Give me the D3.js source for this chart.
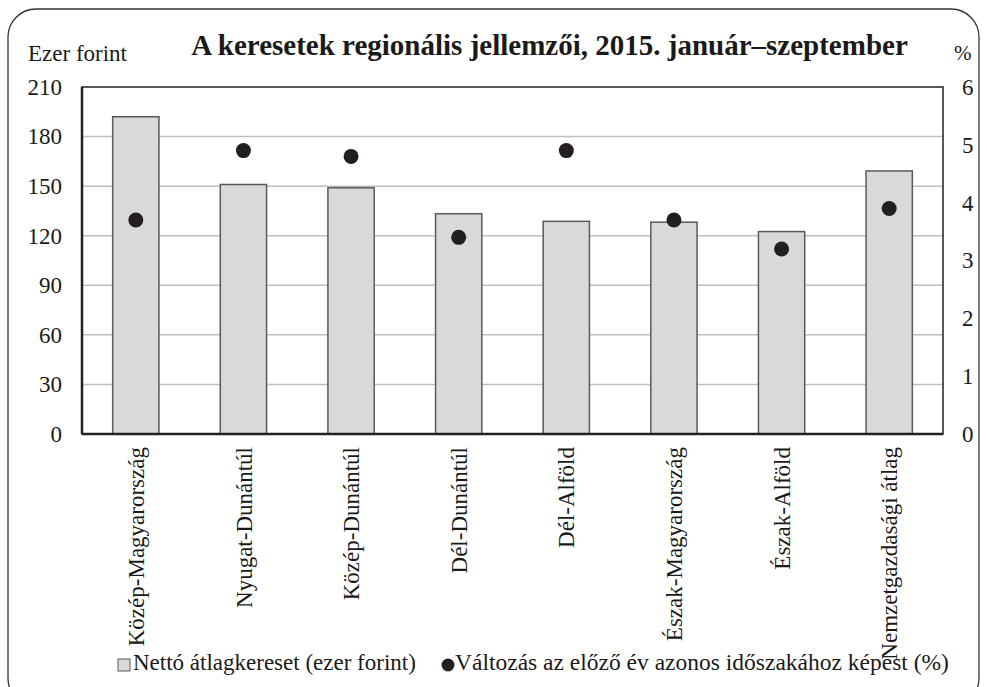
<!DOCTYPE html>
<html><head><meta charset="utf-8">
<script src="https://cdn.jsdelivr.net/npm/d3@7"></script>
<style>body{margin:0;background:#fff}svg{display:block}</style>
</head><body>
<script>
const categories = ["Közép-Magyarország","Nyugat-Dunántúl","Közép-Dunántúl","Dél-Dunántúl","Dél-Alföld","Észak-Magyarország","Észak-Alföld","Nemzetgazdasági átlag"];
const wages = [192, 151, 149, 133.3, 128.7, 128.2, 122.5, 159.2];
const changes = [3.7, 4.9, 4.8, 3.4, 4.9, 3.7, 3.2, 3.9];
const leftTicks = [0,30,60,90,120,150,180,210];
const rightTicks = [0,1,2,3,4,5,6];
const title = "A keresetek regionális jellemzői, 2015. január–szeptember";
const legendLabels = ["Nettó átlagkereset (ezer forint)","Változás az előző év azonos időszakához képest (%)"];

const FONT = "Liberation Serif, DejaVu Serif, serif";
const FS = 23;
const W=987,H=687;
const m={l:82,r:W-943,t:87,b:H-434};
const svg=d3.select("body").append("svg").attr("width",W).attr("height",H)
  .attr("font-family",FONT);

// frame
svg.append("rect").attr("x",8).attr("y",9).attr("width",W-16).attr("height",H+10).attr("rx",28).attr("ry",28)
  .attr("fill","none").attr("stroke","#333").attr("stroke-width",1.3);

const x=d3.scaleBand().domain(categories).range([m.l,W-m.r]).paddingInner(0.57).paddingOuter(0.285);
const yL=d3.scaleLinear().domain([0,210]).range([H-m.b,m.t]);
const yR=d3.scaleLinear().domain([0,6]).range([H-m.b,m.t]);

// gridlines
svg.append("g").selectAll("line").data(leftTicks.filter(d=>d>0&&d<210)).join("line")
  .attr("x1",m.l).attr("x2",W-m.r).attr("y1",d=>yL(d)).attr("y2",d=>yL(d))
  .attr("stroke","#bfbfbf").attr("stroke-width",1.5);

// bars
svg.append("g").selectAll("rect").data(wages).join("rect")
  .attr("x",(d,i)=>x(categories[i])).attr("width",x.bandwidth())
  .attr("y",d=>yL(d)).attr("height",d=>yL(0)-yL(d))
  .attr("fill","#d9d9d9").attr("stroke","#595959").attr("stroke-width",1.5);

// plot border
svg.append("rect").attr("x",m.l).attr("y",m.t).attr("width",W-m.r-m.l).attr("height",H-m.b-m.t)
  .attr("fill","none").attr("stroke","#222").attr("stroke-width",1.5);
svg.append("line").attr("x1",m.l).attr("x2",W-m.r).attr("y1",yL(0)).attr("y2",yL(0)).attr("stroke","#222").attr("stroke-width",2.5);
svg.append("line").attr("x1",m.l).attr("x2",m.l).attr("y1",m.t).attr("y2",yL(0)).attr("stroke","#222").attr("stroke-width",2.5);

// dots
svg.append("g").selectAll("circle").data(changes).join("circle")
  .attr("cx",(d,i)=>x(categories[i])+x.bandwidth()/2).attr("cy",d=>yR(d)).attr("r",7.5).attr("fill","#231f20");

function styleAxis(g, fs){
  g.attr("font-family",FONT).attr("font-size",null);
  g.select(".domain").remove();
  g.selectAll("text").attr("font-family",FONT).attr("font-size",fs).attr("fill","#1a1a1a");
}
const gL=svg.append("g").attr("transform",`translate(${m.l},0)`)
  .call(d3.axisLeft(yL).tickValues(leftTicks).tickFormat(d3.format("d")).tickSize(0).tickPadding(20));
styleAxis(gL, FS);

const gR=svg.append("g").attr("transform",`translate(${W-m.r},0)`)
  .call(d3.axisRight(yR).tickValues(rightTicks).tickFormat(d3.format("d")).tickSize(0).tickPadding(19));
styleAxis(gR, FS);

const gB=svg.append("g").attr("transform",`translate(0,${H-m.b})`)
  .call(d3.axisBottom(x).tickSize(0).tickPadding(0));
styleAxis(gB, 23);
gB.selectAll("text").attr("text-anchor","end").attr("transform","rotate(-90)").attr("x",-13).attr("y",0).attr("dy","0.35em");

// axis titles
svg.append("text").attr("x",28).attr("y",61).attr("font-size",FS).attr("fill","#1a1a1a").text("Ezer forint");
svg.append("text").attr("x",954).attr("y",60).attr("font-size",FS-2).attr("fill","#1a1a1a").text("%");
svg.append("text").attr("x",549.5).attr("y",55).attr("text-anchor","middle").attr("font-size",29).attr("font-weight","bold").attr("fill","#1a1a1a").text(title);

// legend
const lg=svg.append("g");
lg.append("rect").attr("x",118).attr("y",659).attr("width",12).attr("height",12).attr("fill","#d9d9d9").attr("stroke","#595959").attr("stroke-width",1);
lg.append("text").attr("x",133).attr("y",670).attr("font-size",FS).attr("fill","#1a1a1a").text(legendLabels[0]);
lg.append("circle").attr("cx",448).attr("cy",665).attr("r",6.5).attr("fill","#231f20");
lg.append("text").attr("x",455).attr("y",670).attr("font-size",23.5).attr("fill","#1a1a1a").text(legendLabels[1]);
</script>
</body></html>
